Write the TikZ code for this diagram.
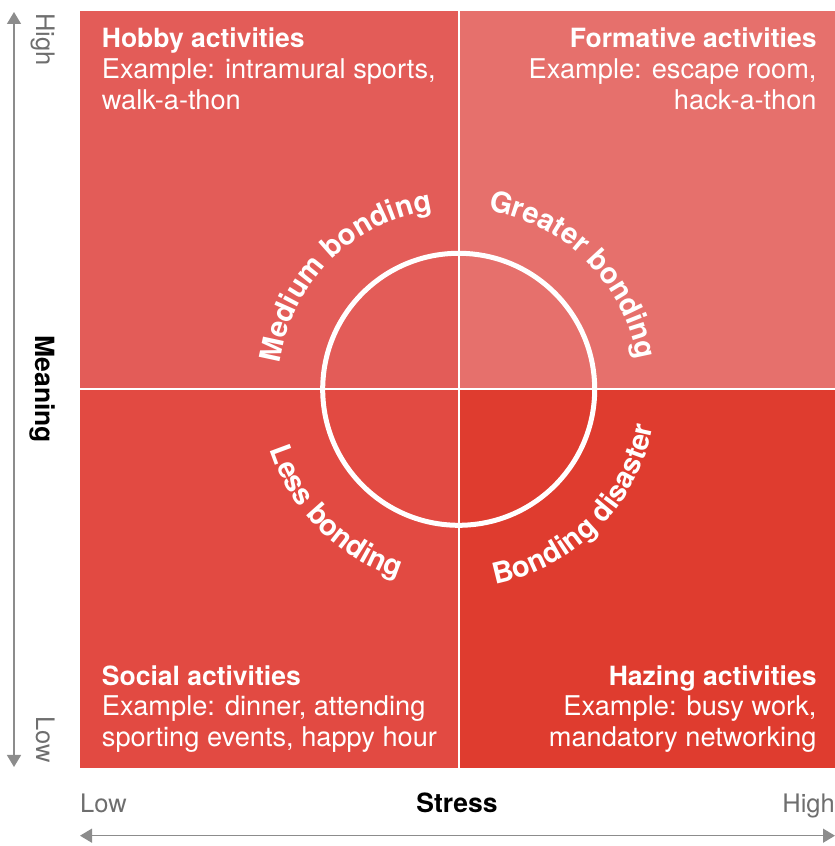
\documentclass[tikz,border=0pt]{standalone}
\usepackage{fontspec}
\setmainfont{TeX Gyre Heros}
\usetikzlibrary{arrows.meta,decorations.text}
\definecolor{qTL}{HTML}{E35C58}
\definecolor{qTR}{HTML}{E6706C}
\definecolor{qBL}{HTML}{E24A42}
\definecolor{qBR}{HTML}{DF3C2F}
\definecolor{axisgray}{HTML}{6E6E6E}
\definecolor{arrowgray}{HTML}{8C8C8C}
\begin{document}
\begin{tikzpicture}[x=1pt,y=1pt,
  lab/.style={inner sep=0pt, text=white, font=\fontsize{27.2}{31}\selectfont},
  ttl/.style={inner sep=0pt, text=white, font=\bfseries\fontsize{26.5}{31}\selectfont},
  axlab/.style={inner sep=0pt, text=axisgray, font=\fontsize{25.5}{30}\selectfont},
  axttl/.style={inner sep=0pt, text=black, font=\bfseries\fontsize{26.5}{30}\selectfont},
  axarrow/.style={draw=arrowgray, line width=1.5pt, {Triangle[length=12pt,width=14pt]}-{Triangle[length=12pt,width=14pt]}},
  curve/.style={decorate, decoration={text along path, text align=center, text color=white, text={|\bfseries\fontsize{29}{30}\selectfont|#1}}}
]
\useasboundingbox (0,0) rectangle (835,846);
% quadrants
\fill[qTL] (80,456.7) rectangle (458.7,835);
\fill[qTR] (458.7,456.7) rectangle (835,835);
\fill[qBL] (80,78) rectangle (458.7,456.7);
\fill[qBR] (458.7,78) rectangle (835,456.7);
\draw[white, line width=2pt] (458.7,78) -- (458.7,835);
\draw[white, line width=2pt] (80,456.7) -- (835,456.7);
% circle
\coordinate (C) at (458.7,456.7);
\draw[white, line width=5pt] (C) circle[radius=136];
% quadrant texts
\node[ttl, anchor=base west] (hobbyT) at (101.7,798.7) {Hobby activities};
\node[lab, anchor=base west] (hobbyA) at (101.7,767.7) {Example: intramural sports,};
\node[lab, anchor=base west] (hobbyB) at (101.7,736.7) {walk-a-thon};
\node[ttl, anchor=base east] (formT) at (816.7,798.7) {Formative activities};
\node[lab, anchor=base east] (formA) at (816.7,767.7) {Example: escape room,};
\node[lab, anchor=base east] (formB) at (816.7,736.7) {hack-a-thon};
\node[ttl, anchor=base west] (socT) at (101.7,160.5) {Social activities};
\node[lab, anchor=base west] (socA) at (101.7,130) {Example: dinner, attending};
\node[lab, anchor=base west] (socB) at (101.7,99.5) {sporting events, happy hour};
\node[ttl, anchor=base east] (hazT) at (816.7,160.5) {Hazing activities};
\node[lab, anchor=base east] (hazA) at (816.7,130) {Example: busy work,};
\node[lab, anchor=base east] (hazB) at (816.7,99.5) {mandatory networking};
% curved labels
\path[curve={Medium bonding}] (C) ++(185:181) arc[start angle=185, end angle=85, radius=181];
\path[curve={Greater bonding}] (C) ++(95:181) arc[start angle=95, end angle=-5, radius=181];
\path[curve={Less bonding}] (C) ++(175:198) arc[start angle=175, end angle=275, radius=198];
\path[curve={Bonding disaster}] (C) ++(265:198) arc[start angle=265, end angle=365, radius=198];
% axes
\coordinate (vT) at (14,834);
\coordinate (vB) at (14,79);
\draw[axarrow] (vB) -- (vT);
\coordinate (hL) at (80,10.3);
\coordinate (hR) at (835,10.3);
\draw[axarrow] (hL) -- (hR);
\node[axlab, rotate=-90, anchor=base west] (vhigh) at (36,833) {High};
\node[axlab, rotate=-90, anchor=base east] (vlow) at (36,83) {Low};
\node[axttl, rotate=-90, anchor=base] (meaning) at (35,456.7) {Meaning};
\node[axlab, anchor=base west] (hlow) at (80,33) {Low};
\node[axttl, anchor=base] (stress) at (457,33) {Stress};
\node[axlab, anchor=base east] (hhigh) at (835,33) {High};
\end{tikzpicture}
\end{document}
